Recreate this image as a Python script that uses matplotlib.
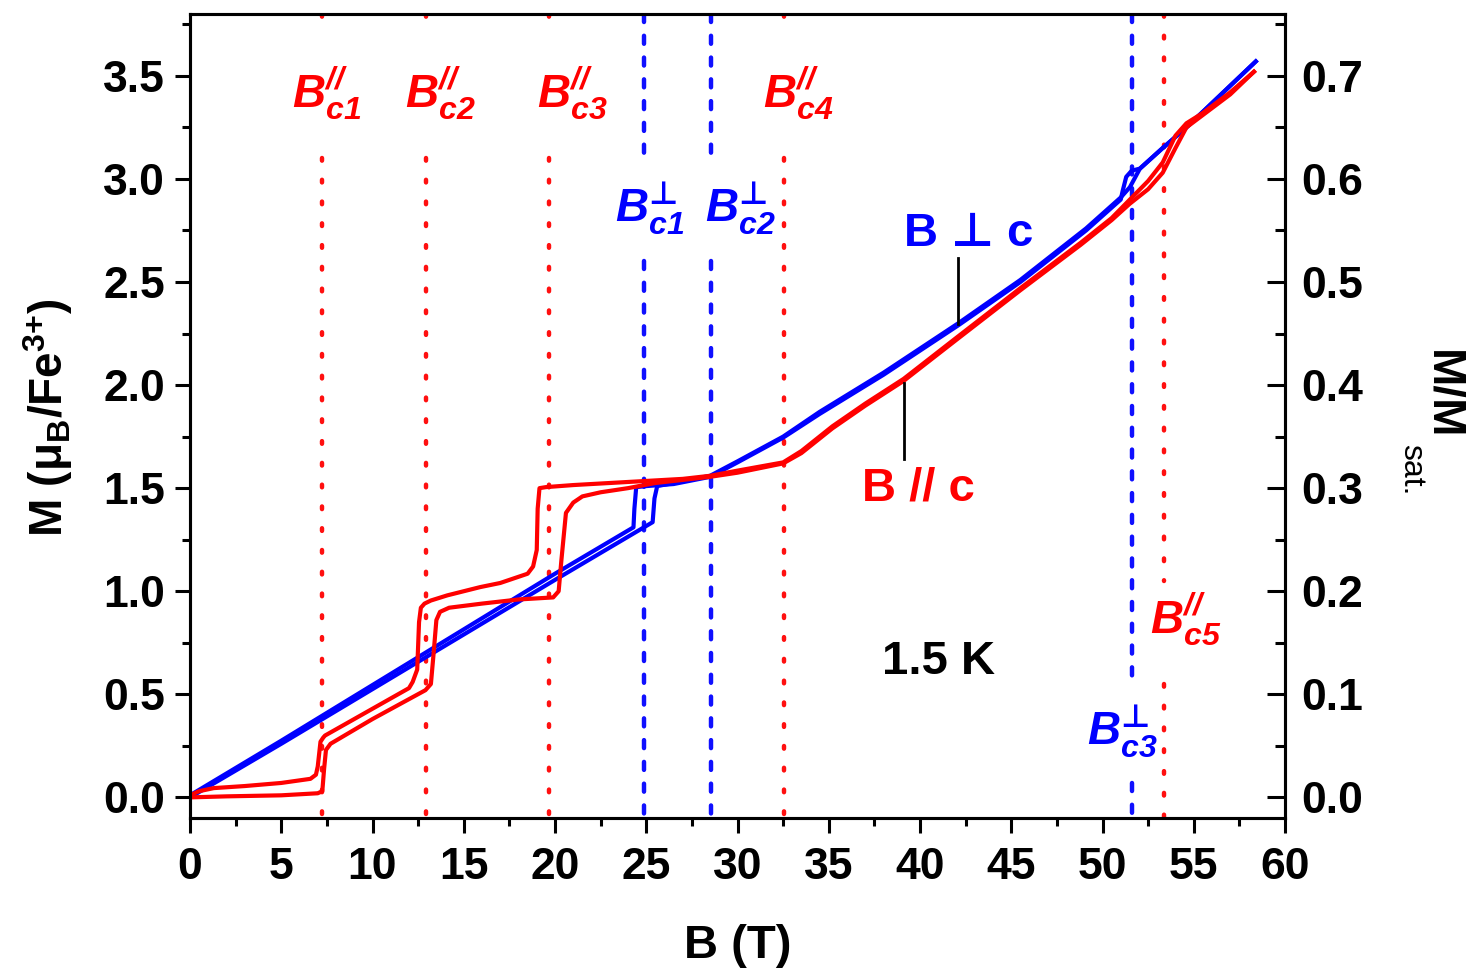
import matplotlib
matplotlib.use("Agg")
import matplotlib.pyplot as plt
from matplotlib.ticker import MultipleLocator

plt.rcParams['font.family'] = ['Liberation Sans', 'DejaVu Sans']
plt.rcParams['font.weight'] = 'bold'
plt.rcParams['mathtext.fontset'] = 'dejavusans'

PERP = '\u22a5'

# ---- magnetization data, 1.5 K ----
# B // c, field up-sweep
red_up_B = [0, 2, 5, 7.0, 7.25, 7.35, 7.45, 7.7, 10.0, 12.9, 13.2, 13.35, 13.5, 13.7,
            14.2, 16.0, 18.0, 19.9, 20.2, 20.35, 20.6, 21.0, 21.5, 22.5, 24.0, 25.5,
            27.0, 28.5, 30.0, 32.5, 33.5, 35.2, 37.0, 39.1, 42.0, 45.5, 48.8, 50.5,
            51.5, 52.5, 53.3, 54.0, 54.6, 55.5, 57.0, 58.3]
red_up_M = [0.0, 0.005, 0.01, 0.02, 0.03, 0.14, 0.23, 0.26, 0.38, 0.52, 0.55, 0.70,
            0.86, 0.90, 0.92, 0.94, 0.96, 0.97, 1.00, 1.15, 1.38, 1.43, 1.46, 1.48,
            1.50, 1.525, 1.54, 1.555, 1.575, 1.62, 1.67, 1.79, 1.90, 2.02, 2.22, 2.46,
            2.68, 2.80, 2.88, 2.95, 3.03, 3.15, 3.25, 3.31, 3.41, 3.52]
# B // c, field down-sweep
red_dn_B = [58.3, 57.0, 55.5, 54.6, 54.0, 53.3, 52.5, 51.5, 50.5, 48.8, 45.5, 42.0,
            39.1, 37.0, 35.2, 33.5, 32.5, 30.0, 28.5, 27.0, 25.0, 23.0, 21.0, 19.5,
            19.15, 19.05, 19.0, 18.8, 18.5, 17.0, 15.9, 14.1, 13.2, 12.85, 12.65,
            12.55, 12.45, 12.2, 12.0, 10.0, 7.4, 7.3, 7.15, 7.0, 6.9, 6.6, 5.0, 3.0,
            1.3, 0.5, 0.0]
red_dn_M = [3.52, 3.42, 3.32, 3.27, 3.21, 3.08, 2.99, 2.90, 2.81, 2.69, 2.47, 2.23,
            2.03, 1.91, 1.80, 1.68, 1.625, 1.585, 1.56, 1.545, 1.535, 1.525, 1.515,
            1.505, 1.50, 1.40, 1.20, 1.12, 1.085, 1.04, 1.02, 0.98, 0.955, 0.94, 0.92,
            0.85, 0.62, 0.56, 0.53, 0.43, 0.30, 0.29, 0.27, 0.15, 0.11, 0.09, 0.07,
            0.055, 0.045, 0.03, 0.01]
# B perpendicular to c, field up-sweep
blue_up_B = [0, 5, 10, 15, 20, 25.35, 25.45, 25.6, 26.5, 28.5, 30.0, 32.5, 34.5, 38.0,
             42.1, 45.5, 49.1, 51.0, 51.5, 52.05, 53.3, 54.6, 56.5, 58.4]
blue_up_M = [0.0, 0.26, 0.525, 0.79, 1.055, 1.335, 1.45, 1.51, 1.525, 1.56, 1.63, 1.75,
             1.87, 2.06, 2.30, 2.51, 2.76, 2.91, 2.96, 3.05, 3.15, 3.25, 3.41, 3.57]
# B perpendicular to c, field down-sweep
blue_dn_B = [58.4, 56.5, 54.6, 53.3, 52.05, 51.6, 51.3, 51.1, 51.0, 49.1, 45.5, 42.1,
             38.0, 34.5, 32.5, 30.0, 28.5, 26.5, 25.0, 24.45, 24.35, 24.3, 20, 15, 10,
             5, 0]
blue_dn_M = [3.57, 3.41, 3.25, 3.15, 3.05, 3.04, 3.01, 2.94, 2.90, 2.75, 2.50, 2.29,
             2.05, 1.86, 1.745, 1.625, 1.555, 1.52, 1.51, 1.505, 1.40, 1.31, 1.085,
             0.815, 0.545, 0.275, 0.01]

# critical fields (T)
par_crit = [7.25, 12.95, 19.65, 32.55, 53.35]
par_names = ['c1', 'c2', 'c3', 'c4', 'c5']
perp_crit = [24.85, 28.55, 51.6]
perp_names = ['c1', 'c2', 'c3']

M_sat = 5.0
x_ticks = list(range(0, 61, 5))

fig = plt.figure(figsize=(14.66, 9.73), dpi=100)
ax = fig.add_axes([190 / 1466, (973 - 818) / 973, 1095 / 1466, 804 / 973])
ax.set_xlim(0, 60)
ax.set_ylim(-0.1, 3.8)

# vertical marker lines, broken where the labels sit
par_spans = [[(3.10, -0.1), (3.8, 3.72)], [(3.10, -0.1), (3.8, 3.72)],
             [(3.10, -0.1), (3.8, 3.72)], [(3.10, -0.1), (3.8, 3.72)],
             [(3.8, 1.05), (0.55, -0.1)]]
perp_spans = [[(3.8, 3.12), (2.60, -0.1)], [(3.8, 3.12), (2.60, -0.1)],
              [(3.8, 0.567), (0.068, -0.1)]]
for b, spans in zip(par_crit, par_spans):
    for y0, y1 in spans:
        ax.plot([b, b], [y0, y1], color='#ff1010', lw=3.2,
                linestyle=(0, (0.6, 4.3)), dash_capstyle='round', zorder=1)
for b, spans in zip(perp_crit, perp_spans):
    for y0, y1 in spans:
        ax.plot([b, b], [y0, y1], color='#1010ff', lw=3.2,
                linestyle=(0, (1.8, 3.1)), dash_capstyle='round', zorder=1)

# magnetization loops
for bb, mm in ((blue_up_B, blue_up_M), (blue_dn_B, blue_dn_M)):
    ax.plot(bb, mm, color='#0000ff', lw=3.0, solid_joinstyle='round', zorder=3)
for bb, mm in ((red_up_B, red_up_M), (red_dn_B, red_dn_M)):
    ax.plot(bb, mm, color='#ff0000', lw=3.0, solid_joinstyle='round', zorder=4)

# critical-field labels
par_pos = [(5.59, 3.345), (11.78, 3.345), (19.0, 3.345), (31.4, 3.345), (52.6, 0.795)]
for (x, y), n in zip(par_pos, par_names):
    ax.text(x, y, r'$\mathregular{B^{//}_{%s}}$' % n, color='#ff0000', fontsize=33,
            fontstyle='italic', fontweight='bold', ha='left', va='baseline', zorder=5)
perp_pos = [(23.3, 2.787), (28.2, 2.787), (49.15, 0.252)]
for (x, y), n in zip(perp_pos, perp_names):
    ax.text(x, y, r'$\mathregular{B}^{%s}_{\mathregular{%s}}$' % (PERP, n),
            color='#0000ff', fontsize=33, fontstyle='italic', fontweight='bold',
            ha='left', va='baseline', zorder=5)

ax.text(39.07, 2.676, 'B $%s$ c' % PERP, color='#0000ff', fontsize=34,
        ha='left', va='baseline')
ax.text(36.8, 1.44, 'B // c', color='#ff0000', fontsize=34, ha='left', va='baseline')
ax.text(37.9, 0.60, '1.5 K', color='black', fontsize=34, ha='left', va='baseline')
ax.plot([42.08, 42.08], [2.617, 2.298], color='black', lw=2, zorder=5)
ax.plot([39.12, 39.12], [2.01, 1.643], color='black', lw=2, zorder=5)

# axes styling
for s in ax.spines.values():
    s.set_linewidth(2.2)
ax.set_xticks(x_ticks)
ax.xaxis.set_minor_locator(MultipleLocator(2.5))
ax.yaxis.set_major_locator(MultipleLocator(0.5))
ax.yaxis.set_minor_locator(MultipleLocator(0.25))
ax.tick_params(axis='both', which='major', direction='out', length=11, width=2.2,
               labelsize=32, top=False, right=False)
ax.tick_params(axis='both', which='minor', direction='out', length=6, width=2.2,
               top=False, right=False)
ax.tick_params(axis='x', which='major', pad=10)
ax.tick_params(axis='y', which='major', pad=7)

ax2 = ax.twinx()
ax2.set_ylim(-0.1 / M_sat, 3.8 / M_sat)
ax2.yaxis.set_major_locator(MultipleLocator(0.1))
ax2.yaxis.set_minor_locator(MultipleLocator(0.05))
ax2.tick_params(axis='y', which='major', direction='in', length=13, width=2.2,
                labelsize=32, pad=12)
ax2.tick_params(axis='y', which='minor', direction='in', length=7, width=2.2)
for s in ax2.spines.values():
    s.set_linewidth(2.2)

fig.text(738 / 1466, 1 - 946 / 973, 'B (T)', fontsize=34, ha='center', va='center')
fig.text(48 / 1466, 1 - 418 / 973,
         r'M ($\mathregular{\mu_{B}}$/Fe$^{\mathregular{3{+}}}$)',
         fontsize=33, rotation=90, ha='center', va='center')
fig.text(1442 / 1466, 1 - 395 / 973, 'M/M', fontsize=33, rotation=270,
         ha='center', va='center')
fig.text(1411 / 1466, 1 - 470 / 973, 'sat.', fontsize=23, fontweight='normal',
         rotation=270, ha='center', va='center')

fig.savefig('out.png', dpi=100)
